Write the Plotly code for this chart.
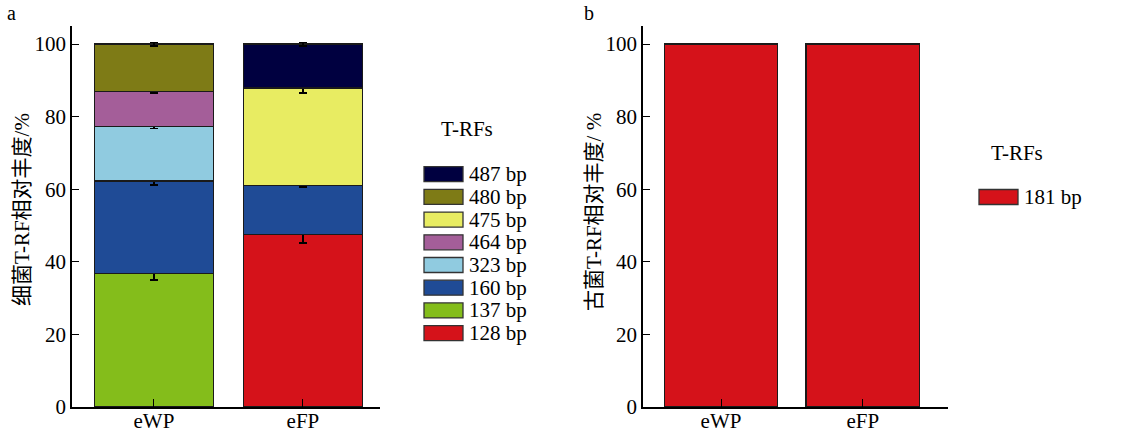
import plotly.graph_objects as go

# ---------------- data ----------------
categories = ["eWP", "eFP"]

# bacteria (panel a), stacked bottom -> top
bact_names = ["128 bp", "137 bp", "160 bp", "323 bp", "464 bp", "475 bp", "480 bp", "487 bp"]
bact_colors = ["#D5121A", "#84BD1B", "#1F4B96", "#90CBE0", "#A45E99", "#E8EC62", "#7E7B16", "#000040"]
bact_values = [
    [None, 47.5],   # 128 bp
    [36.8, None],   # 137 bp
    [25.5, 13.6],   # 160 bp
    [15.1, None],   # 323 bp
    [9.6, None],    # 464 bp
    [None, 26.8],   # 475 bp
    [13.0, None],   # 480 bp
    [None, 12.1],   # 487 bp
]
bact_errors = [
    [None, 2.3],
    [1.8, None],
    [1.2, 0.5],
    [0.7, None],
    [0.4, None],
    [None, 1.3],
    [0.5, None],
    [None, 0.5],
]

# archaea (panel b)
arch_names = ["181 bp"]
arch_colors = ["#D5121A"]
arch_values = [[100, 100]]

y_ticks = [0, 20, 40, 60, 80, 100]

FONT = "'Liberation Serif', 'Noto Sans CJK SC', serif"
W, H = 1123, 436

fig = go.Figure()

for name, color, vals, errs in zip(bact_names, bact_colors, bact_values, bact_errors):
    fig.add_trace(go.Bar(
        x=categories, y=vals, name=name, showlegend=False,
        marker=dict(color=color, line=dict(color="#1a1a1a", width=1.3)),
        error_y=dict(type="data", array=errs, visible=True, color="black", thickness=1.6, width=4),
        width=0.8, xaxis="x", yaxis="y",
    ))

for name, color, vals in zip(arch_names, arch_colors, arch_values):
    fig.add_trace(go.Bar(
        x=categories, y=vals, name=name, showlegend=False,
        marker=dict(color=color, line=dict(color="#1a1a1a", width=1.3)),
        width=0.8, xaxis="x2", yaxis="y2",
    ))

def px_x(p):
    return p / W

def px_y(p):
    return 1 - p / H

def axis_style(ticklen):
    return dict(
        showline=True, linecolor="black", linewidth=1.5, showgrid=False, zeroline=False,
        ticks="inside", ticklen=ticklen, tickwidth=1.3, tickcolor="black",
        tickfont=dict(family=FONT, size=21, color="black"), automargin=False,
    )

fig.update_layout(
    width=W, height=H,
    margin=dict(l=0, r=0, t=0, b=0, autoexpand=False),
    paper_bgcolor="white", plot_bgcolor="white",
    barmode="stack",
    showlegend=False,
    font=dict(family=FONT, color="black"),
    xaxis=dict(domain=[px_x(72), px_x(380)], range=[-0.55, 1.517], anchor="y",
               ticklabelstandoff=-6, **axis_style(8)),
    yaxis=dict(domain=[px_y(407), px_y(26)], range=[0, 105], anchor="x",
               tickvals=y_ticks, **axis_style(7)),
    xaxis2=dict(domain=[px_x(643), px_x(948)], range=[-0.55, 1.6], anchor="y2",
                ticklabelstandoff=-6, **axis_style(8)),
    yaxis2=dict(domain=[px_y(407), px_y(26)], range=[0, 105], anchor="x2",
                tickvals=y_ticks, **axis_style(7)),
)

# y-axis titles
fig.add_annotation(x=px_x(22), y=px_y(210), xref="paper", yref="paper", text="细菌T-RF相对丰度/%",
                   textangle=-90, showarrow=False, xanchor="center", yanchor="middle",
                   font=dict(family=FONT, size=21))
fig.add_annotation(x=px_x(594), y=px_y(212), xref="paper", yref="paper", text="古菌T-RF相对丰度/ %",
                   textangle=-90, showarrow=False, xanchor="center", yanchor="middle",
                   font=dict(family=FONT, size=21))

# panel labels
fig.add_annotation(x=px_x(5), y=px_y(13), xref="paper", yref="paper", text="a",
                   showarrow=False, xanchor="left", yanchor="middle", font=dict(family=FONT, size=20))
fig.add_annotation(x=px_x(582), y=px_y(13), xref="paper", yref="paper", text="b",
                   showarrow=False, xanchor="left", yanchor="middle", font=dict(family=FONT, size=20))

# ---------------- legends (built from series names/colors) ----------------
def draw_legend(names, colors, title_x, title_y, sw_x, first_y, step):
    fig.add_annotation(x=px_x(title_x), y=px_y(title_y), xref="paper", yref="paper", text="T-RFs",
                       showarrow=False, xanchor="left", yanchor="middle", font=dict(family=FONT, size=21))
    for i, (n, c) in enumerate(zip(names, colors)):
        cy = first_y + i * step
        fig.add_shape(type="rect", xref="paper", yref="paper",
                      x0=px_x(sw_x), x1=px_x(sw_x + 39), y0=px_y(cy - 7.5), y1=px_y(cy + 7.5),
                      fillcolor=c, line=dict(color="#333333", width=1.3))
        fig.add_annotation(x=px_x(sw_x + 43), y=px_y(cy), xref="paper", yref="paper", text=n,
                           showarrow=False, xanchor="left", yanchor="middle",
                           font=dict(family=FONT, size=21))

draw_legend(list(reversed(bact_names)), list(reversed(bact_colors)), 439, 129, 424, 174.2, 22.7)
draw_legend(arch_names, arch_colors, 989, 153, 979, 197, 22.7)

fig.write_html("out.html", config={"displayModeBar": False},
               post_script="document.body.style.margin='0';document.body.style.overflow='hidden';")
